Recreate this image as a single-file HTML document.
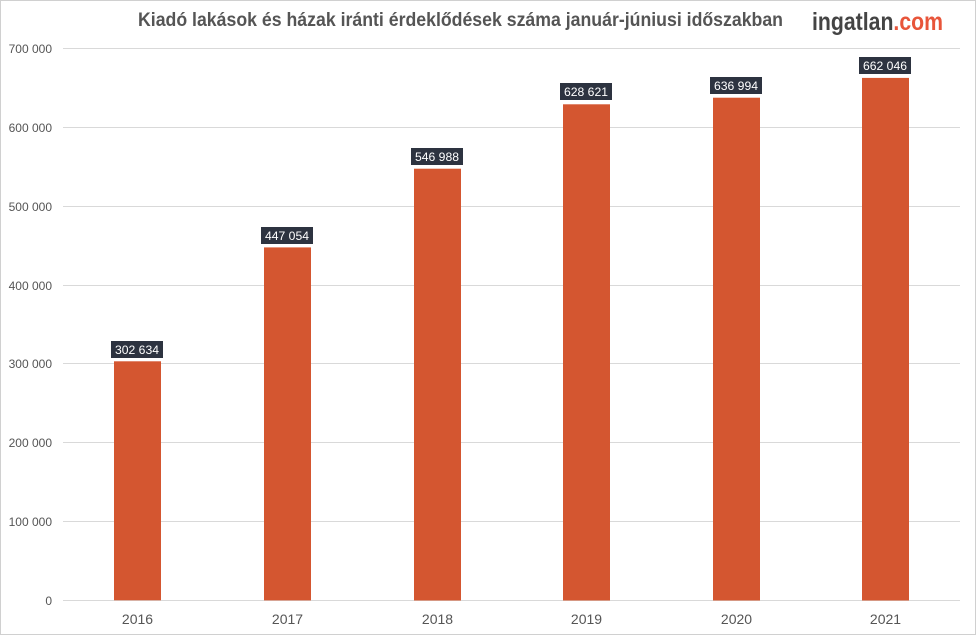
<!DOCTYPE html>
<html><head><meta charset="utf-8"><style>
html,body{margin:0;padding:0;background:#fff;}
svg{display:block;}
</style></head><body>
<svg width="976" height="636" viewBox="0 0 976 636" xmlns="http://www.w3.org/2000/svg" font-family="Liberation Sans, sans-serif">
<rect x="0.5" y="0.5" width="975" height="634" fill="#fff" stroke="#d0d0d0"/>
<text x="138" y="26" font-size="19" font-weight="bold" fill="#555" textLength="645" lengthAdjust="spacingAndGlyphs">Kiadó lakások és házak iránti érdeklődések száma január-júniusi időszakban</text>
<text x="812" y="30" font-size="25" font-weight="bold" fill="#444" textLength="131" lengthAdjust="spacingAndGlyphs">ingatlan<tspan fill="#e8553a">.com</tspan></text>
<g stroke="#d9d9d9" stroke-width="1">
<line x1="63" x2="960" y1="48.5" y2="48.5"/>
<line x1="63" x2="960" y1="127.5" y2="127.5"/>
<line x1="63" x2="960" y1="206.5" y2="206.5"/>
<line x1="63" x2="960" y1="285.5" y2="285.5"/>
<line x1="63" x2="960" y1="363.5" y2="363.5"/>
<line x1="63" x2="960" y1="442.5" y2="442.5"/>
<line x1="63" x2="960" y1="521.5" y2="521.5"/>
<line x1="63" x2="960" y1="600.5" y2="600.5"/>
</g>
<g font-size="12" fill="#555" text-anchor="end">
<text x="52" y="53">700 000</text>
<text x="52" y="132">600 000</text>
<text x="52" y="211">500 000</text>
<text x="52" y="290">400 000</text>
<text x="52" y="368">300 000</text>
<text x="52" y="447">200 000</text>
<text x="52" y="526">100 000</text>
<text x="52" y="605">0</text>
</g>
<g fill="#d45630">
<rect x="114" y="361.3" width="47" height="239"/>
<rect x="264" y="247.4" width="47" height="353"/>
<rect x="414" y="168.7" width="47" height="431.8"/>
<rect x="563" y="104.3" width="47" height="496.2"/>
<rect x="713" y="97.7" width="47" height="502.8"/>
<rect x="862" y="77.9" width="47" height="522.6"/>
</g>
<g fill="#2d3340">
<rect x="111" y="341" width="52" height="17"/>
<rect x="261" y="227" width="52" height="17"/>
<rect x="411" y="148" width="52" height="17"/>
<rect x="560" y="83" width="52" height="17"/>
<rect x="710" y="77" width="52" height="17"/>
<rect x="859" y="57" width="52" height="17"/>
</g>
<g font-size="12" fill="#fff">
<text x="115" y="354" textLength="44" lengthAdjust="spacingAndGlyphs">302 634</text>
<text x="265" y="240" textLength="44" lengthAdjust="spacingAndGlyphs">447 054</text>
<text x="415" y="161" textLength="44" lengthAdjust="spacingAndGlyphs">546 988</text>
<text x="564" y="96" textLength="44" lengthAdjust="spacingAndGlyphs">628 621</text>
<text x="714" y="90" textLength="44" lengthAdjust="spacingAndGlyphs">636 994</text>
<text x="863" y="70" textLength="44" lengthAdjust="spacingAndGlyphs">662 046</text>
</g>
<g font-size="14" fill="#555" text-anchor="middle">
<text x="137.5" y="624">2016</text>
<text x="287.5" y="624">2017</text>
<text x="437.5" y="624">2018</text>
<text x="586.5" y="624">2019</text>
<text x="736.5" y="624">2020</text>
<text x="885.5" y="624">2021</text>
</g>
</svg>
</body></html>
